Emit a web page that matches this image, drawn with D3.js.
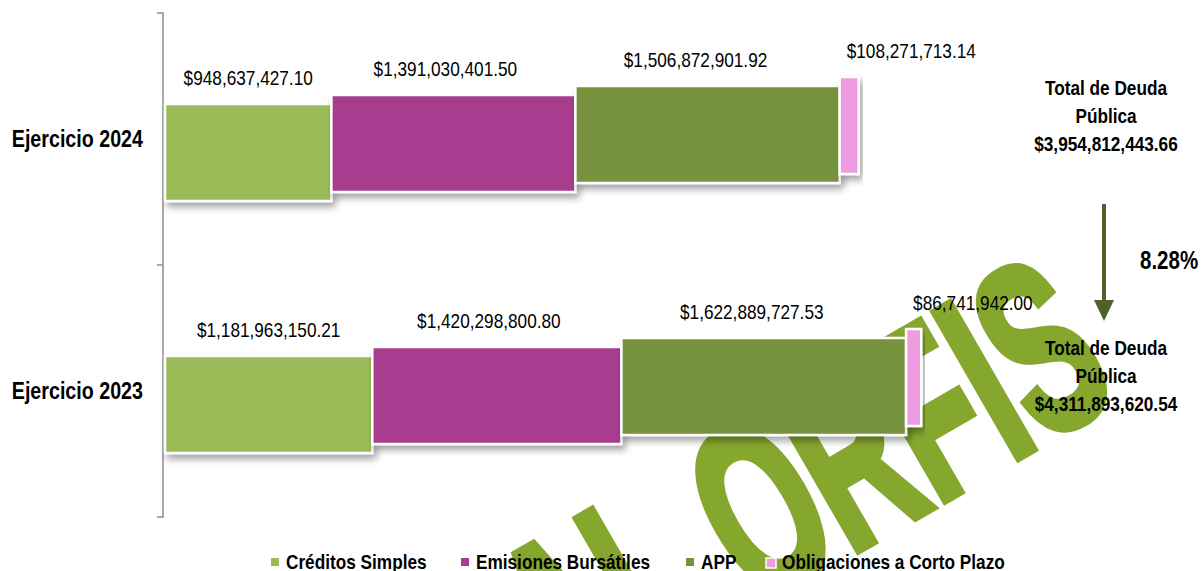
<!DOCTYPE html>
<html>
<head>
<meta charset="utf-8">
<script src="https://cdn.jsdelivr.net/npm/d3@7"></script>
<style>
  html, body { margin: 0; padding: 0; background: #fff; }
  svg { display: block; }
  text { font-family: "Liberation Sans", Arial, sans-serif; }
</style>
</head>
<body>
<div id="chart"></div>
<script>
  // data
  var categories = ['Ejercicio 2024', 'Ejercicio 2023'];
  var series = ['Créditos Simples', 'Emisiones Bursátiles', 'APP', 'Obligaciones a Corto Plazo'];
  var colors = ['#9bbb59', '#a83d8f', '#77933c', '#ef9be2'];
  var values2024 = [948637427.10, 1391030401.50, 1506872901.92, 108271713.14];
  var values2023 = [1181963150.21, 1420298800.80, 1622889727.53, 86741942.00];
  var labels2024 = ['$948,637,427.10', '$1,391,030,401.50', '$1,506,872,901.92', '$108,271,713.14'];
  var labels2023 = ['$1,181,963,150.21', '$1,420,298,800.80', '$1,622,889,727.53', '$86,741,942.00'];
  var totals = ['$3,954,812,443.66', '$4,311,893,620.54'];
  var change = '8.28%';

  var width = 1203,
    height = 571,
    narrow = 0.82; // no Arial Narrow here, squeeze Liberation Sans instead

  var svg = d3.select('#chart')
    .append('svg')
    .attr('width', width)
    .attr('height', height);

  var place = function(x, y) {
    return 'translate(' + x + ',' + y + ') scale(' + narrow + ',1)';
  };

  var defs = svg.append('defs');
  var shadow = defs.append('filter')
    .attr('id', 'shadow')
    .attr('x', '-10%').attr('y', '-20%')
    .attr('width', '130%').attr('height', '150%');
  shadow.append('feDropShadow')
    .attr('dx', 3).attr('dy', 5)
    .attr('stdDeviation', 3.5)
    .attr('flood-color', '#000')
    .attr('flood-opacity', 0.35);

  // watermark (behind everything)
  svg.append('text')
    .attr('transform', 'translate(1028,452) rotate(-30) scale(0.57,1)')
    .attr('x', -938)
    .attr('font-weight', 'bold')
    .attr('font-size', 243)
    .attr('fill', '#86a72e')
    .attr('stroke', '#86a72e')
    .attr('stroke-width', 9)
    .attr('stroke-linejoin', 'miter')
    .text('AL ORFIS');

  var x = d3.scaleLinear()
    .domain([0, 5000000000])
    .range([165, 165 + 877]);

  var y = d3.scaleBand()
    .domain(categories)
    .range([13, 517]);

  var barH = 97,
    step = 9;

  var rows = categories.map(function(c, i) {
    var vals = i === 0 ? values2024 : values2023;
    var labs = i === 0 ? labels2024 : labels2023;
    var acc = 0;
    return vals.map(function(v, j) {
      var d = { cat: c, s: j, x0: acc, x1: acc + v, label: labs[j] };
      acc += v;
      return d;
    });
  });

  var segY = function(d) {
    return y(d.cat) + y.bandwidth() / 2 + (1.5 - d.s) * step - barH / 2;
  };

  // axis: plain line with the category boundary ticks
  var ax = svg.append('g').attr('stroke', '#8c8c8c').attr('stroke-width', 1.5).attr('fill', 'none');
  ax.append('path').attr('d', 'M157,' + y.range()[0] + 'H163V' + y.range()[1] + 'H157');
  ax.append('line').attr('x1', 157).attr('x2', 163)
    .attr('y1', y(categories[1])).attr('y2', y(categories[1]));

  var flat = rows[0].concat(rows[1]);

  svg.append('g').selectAll('rect')
    .data(flat)
    .join('rect')
    .attr('x', function(d) { return x(d.x0); })
    .attr('y', segY)
    .attr('width', function(d) { return x(d.x1) - x(d.x0); })
    .attr('height', barH)
    .attr('fill', function(d) { return colors[d.s]; })
    .attr('stroke', '#fff')
    .attr('stroke-width', 2.5)
    .attr('filter', 'url(#shadow)');

  var labelDx = [0, -8, -12, 0];
  svg.append('g').selectAll('text')
    .data(flat)
    .join('text')
    .attr('transform', function(d) {
      var lx = d.s === 3 ? x(d.x0) + 7 : (x(d.x0) + x(d.x1)) / 2 + labelDx[d.s];
      return place(lx, segY(d) - 19);
    })
    .attr('text-anchor', function(d) { return d.s === 3 ? 'start' : 'middle'; })
    .attr('font-size', 21)
    .attr('fill', '#000')
    .text(function(d) { return d.label; });

  // category labels
  svg.append('g').selectAll('text')
    .data(categories)
    .join('text')
    .attr('transform', function(c) { return place(143, y(c) + y.bandwidth() / 2 + 8); })
    .attr('text-anchor', 'end')
    .attr('font-weight', 'bold')
    .attr('font-size', 24)
    .text(function(c) { return c; });

  // totals
  var tx = 1106;
  var totalY = [88, 348];
  totals.forEach(function(t, i) {
    var g = svg.append('g')
      .attr('font-weight', 'bold')
      .attr('font-size', 21)
      .attr('text-anchor', 'middle');
    g.append('text').attr('transform', place(tx, totalY[i] + 7)).text('Total de Deuda');
    g.append('text').attr('transform', place(tx, totalY[i] + 35)).text('Pública');
    g.append('text').attr('transform', place(tx, totalY[i] + 63)).text(t);
  });

  // arrow
  svg.append('line')
    .attr('x1', 1104).attr('x2', 1104)
    .attr('y1', 204).attr('y2', 304)
    .attr('stroke', '#4f6228')
    .attr('stroke-width', 4);
  svg.append('path')
    .attr('d', 'M1094,300L1114,300L1104,321Z')
    .attr('fill', '#4f6228');
  svg.append('text')
    .attr('transform', place(1140, 269))
    .attr('font-weight', 'bold')
    .attr('font-size', 25)
    .text(change);

  // legend
  var legendX = [271, 461, 686, 766];
  var legend = svg.append('g').selectAll('g')
    .data(series)
    .join('g')
    .attr('transform', function(d, i) { return 'translate(' + legendX[i] + ',562)'; });
  legend.append('rect')
    .attr('x', 0).attr('y', -4)
    .attr('width', function(d, i) { return i === 3 ? 10 : 8; })
    .attr('height', function(d, i) { return i === 3 ? 10 : 8; })
    .attr('fill', function(d, i) { return colors[i]; })
    .attr('stroke', function(d, i) { return i === 3 ? '#fff' : 'none'; })
    .attr('stroke-width', 1.5);
  legend.append('text')
    .attr('transform', function(d, i) { return place(i === 3 ? 16 : 15, 7); })
    .attr('font-weight', 'bold')
    .attr('font-size', 21)
    .text(function(d) { return d; });
</script>
</body>
</html>
